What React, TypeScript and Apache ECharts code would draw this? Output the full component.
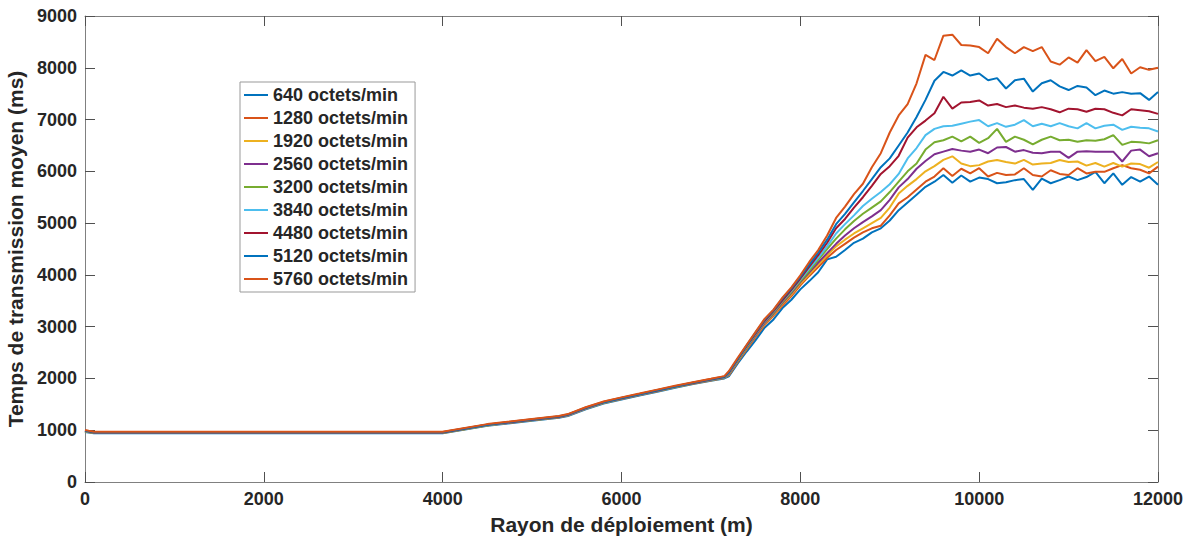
import React, { useEffect, useRef } from "react";
import * as echarts from "echarts";

const X = [0, 100, 4000, 4500, 5000, 5300, 5400, 5600, 5800, 6000, 6200, 6400, 6600, 6800, 7000, 7150,
  7200, 7300, 7400, 7500, 7600, 7700, 7800, 7900, 8000, 8100,
  8200, 8300, 8400, 8500, 8600, 8700, 8800, 8900, 9000, 9100,
  9200, 9300, 9400, 9500, 9600, 9700, 9800, 9900, 10000, 10100,
  10200, 10300, 10400, 10500, 10600, 10700, 10800, 10900, 11000, 11100,
  11200, 11300, 11400, 11500, 11600, 11700, 11800, 11900, 12000];

const NAMES = ["640 octets/min", "1280 octets/min", "1920 octets/min", "2560 octets/min", "3200 octets/min",
  "3840 octets/min", "4480 octets/min", "5120 octets/min", "5760 octets/min"];

const COLORS = ["#0072BD", "#D95319", "#EDB120", "#7E2F8E", "#77AC30", "#4DBEEE", "#A2142F", "#0072BD", "#D95319"];

const s640 = [965, 940, 940, 1085, 1185, 1240, 1275, 1405, 1515, 1595, 1670, 1745, 1820, 1890, 1955, 2000,
  2040, 2290, 2520, 2740, 2980, 3140, 3360, 3520, 3720, 3880,
  4050, 4300, 4350, 4480, 4620, 4700, 4820, 4900, 5050, 5250,
  5400, 5550, 5700, 5800, 5930, 5780, 5920, 5800, 5880, 5850,
  5770, 5790, 5830, 5850, 5640, 5860, 5770, 5830, 5900, 5830,
  5890, 5990, 5770, 5960, 5740, 5890, 5800, 5900, 5740];

const s1280 = [1000, 968, 966, 1112, 1212, 1270, 1305, 1438, 1548, 1628, 1702, 1778, 1852, 1922, 1988, 2040,
  2060, 2320, 2560, 2800, 3030, 3210, 3410, 3590, 3800, 3980,
  4150, 4330, 4480, 4600, 4720, 4820, 4900, 4950, 5150, 5380,
  5500, 5650, 5800, 5900, 6060, 5910, 6050, 5960, 6060, 5900,
  5970, 5930, 5940, 6060, 5930, 5900, 6020, 5950, 5930, 6060,
  5960, 5990, 5990, 6060, 6120, 6060, 6030, 5960, 6090];

const s1920 = [975, 948, 946, 1092, 1192, 1248, 1284, 1414, 1524, 1604, 1678, 1754, 1828, 1898, 1962, 2010,
  2070, 2330, 2580, 2820, 3050, 3230, 3440, 3620, 3830, 4010,
  4200, 4380, 4550, 4680, 4800, 4900, 5000, 5100, 5300, 5570,
  5720, 5850, 6000, 6100, 6220, 6290, 6150, 6100, 6120, 6190,
  6220, 6180, 6150, 6220, 6130, 6150, 6160, 6220, 6180, 6190,
  6110, 6160, 6090, 6160, 6090, 6150, 6140, 6070, 6180];

const s2560 = [978, 950, 949, 1095, 1195, 1252, 1288, 1418, 1528, 1608, 1682, 1758, 1832, 1902, 1966, 2015,
  2080, 2340, 2590, 2830, 3070, 3250, 3460, 3650, 3860, 4050,
  4240, 4420, 4600, 4760, 4900, 5020, 5130, 5250, 5450, 5690,
  5850, 6050, 6200, 6330, 6380, 6430, 6400, 6380, 6420, 6350,
  6460, 6470, 6380, 6410, 6360, 6350, 6380, 6380, 6260, 6380,
  6390, 6380, 6380, 6380, 6190, 6400, 6420, 6290, 6350];

const s3200 = [982, 953, 952, 1098, 1198, 1256, 1292, 1422, 1532, 1612, 1686, 1762, 1836, 1906, 1970, 2020,
  2090, 2350, 2600, 2850, 3090, 3270, 3480, 3670, 3880, 4080,
  4290, 4500, 4700, 4880, 5040, 5180, 5300, 5420, 5600, 5800,
  6000, 6150, 6420, 6560, 6600, 6670, 6580, 6670, 6550, 6640,
  6820, 6570, 6670, 6610, 6520, 6610, 6670, 6600, 6610, 6570,
  6600, 6590, 6620, 6700, 6510, 6570, 6560, 6540, 6600];

const s3840 = [985, 956, 955, 1101, 1201, 1259, 1295, 1425, 1535, 1615, 1690, 1765, 1840, 1910, 1975, 2025,
  2100, 2360, 2620, 2860, 3100, 3290, 3500, 3690, 3910, 4120,
  4330, 4550, 4800, 4980, 5150, 5330, 5470, 5600, 5750, 5950,
  6250, 6450, 6700, 6820, 6870, 6880, 6920, 6960, 6990, 6870,
  6930, 6860, 6900, 6990, 6870, 6920, 6870, 6930, 6870, 6830,
  6930, 6830, 6880, 6900, 6800, 6860, 6840, 6830, 6770];

const s4480 = [988, 958, 958, 1104, 1204, 1262, 1298, 1428, 1538, 1618, 1693, 1768, 1843, 1913, 1978, 2028,
  2110, 2370, 2630, 2870, 3110, 3300, 3510, 3710, 3930, 4160,
  4380, 4620, 4900, 5080, 5300, 5500, 5720, 5950, 6100, 6300,
  6650, 6850, 6980, 7120, 7440, 7210, 7330, 7340, 7370, 7270,
  7300, 7240, 7270, 7230, 7210, 7240, 7200, 7140, 7210, 7200,
  7150, 7210, 7200, 7130, 7080, 7200, 7180, 7160, 7110];

const s5120 = [992, 962, 961, 1107, 1207, 1265, 1301, 1432, 1542, 1622, 1696, 1772, 1846, 1916, 1982, 2033,
  2120, 2380, 2640, 2890, 3130, 3320, 3540, 3740, 3960, 4200,
  4430, 4680, 4980, 5180, 5400, 5620, 5850, 6080, 6250, 6500,
  6750, 7050, 7380, 7750, 7920, 7850, 7950, 7850, 7890, 7760,
  7800, 7600, 7760, 7790, 7540, 7700, 7760, 7640, 7570, 7650,
  7620, 7470, 7560, 7500, 7530, 7500, 7510, 7380, 7530];

const s5760 = [1002, 972, 970, 1118, 1218, 1276, 1312, 1444, 1554, 1634, 1708, 1784, 1858, 1928, 1994, 2045,
  2140, 2400, 2650, 2900, 3150, 3330, 3560, 3760, 3990, 4250,
  4480, 4760, 5100, 5320, 5560, 5760, 6080, 6350, 6750, 7080,
  7300, 7700, 8250, 8150, 8620, 8640, 8440, 8430, 8400, 8280,
  8560, 8400, 8280, 8400, 8320, 8400, 8120, 8060, 8200, 8100,
  8340, 8130, 8210, 7990, 8170, 7890, 8010, 7960, 8000];

const SERIES = [s640, s1280, s1920, s2560, s3200, s3840, s4480, s5120, s5760];

const X_TICKS = { min: 0, max: 12000, interval: 2000 };
const Y_TICKS = { min: 0, max: 9000, interval: 1000 };

const TEXT = "#262626";
const AXIS = "#808080";
const FONT = "'Liberation Sans', Arial, sans-serif";

function buildOption() {
  const axisLine = { show: true, onZero: false, lineStyle: { color: AXIS, width: 1 } };
  const axisTick = { show: true, inside: true, length: 10, lineStyle: { color: "#505050", width: 1 } };
  const plain = (v: number) => String(v);
  return {
    animation: false,
    textStyle: { fontFamily: FONT },
    grid: { left: 85, right: 35, top: 16, bottom: 60, containLabel: false, outerBoundsMode: "none" },
    legend: {
      orient: "vertical",
      left: 240,
      top: 82,
      data: NAMES,
      icon: "rect",
      itemWidth: 24,
      itemHeight: 2,
      itemGap: 5,
      padding: [4, 7, 4, 4],
      borderColor: "#999999",
      borderWidth: 1,
      backgroundColor: "#ffffff",
      textStyle: { fontSize: 18, fontWeight: "bold", color: TEXT, fontFamily: FONT, lineHeight: 18 },
    },
    xAxis: [
      {
        type: "value", ...X_TICKS, position: "bottom",
        axisLine, axisTick,
        axisLabel: { color: TEXT, fontWeight: "bold", fontSize: 18, margin: 8, fontFamily: FONT, formatter: plain },
        splitLine: { show: false },
        name: "Rayon de déploiement (m)", nameLocation: "middle", nameGap: 32,
        nameTextStyle: { fontSize: 21, fontWeight: "bold", color: TEXT, fontFamily: FONT },
      },
      {
        type: "value", ...X_TICKS, position: "top",
        axisLine, axisTick, axisLabel: { show: false }, splitLine: { show: false },
      },
    ],
    yAxis: [
      {
        type: "value", ...Y_TICKS, position: "left",
        axisLine, axisTick,
        axisLabel: { color: TEXT, fontWeight: "bold", fontSize: 18, margin: 8, fontFamily: FONT, formatter: plain },
        splitLine: { show: false },
        name: "Temps de transmission moyen (ms)", nameLocation: "middle", nameGap: 52,
        nameTextStyle: { fontSize: 21, fontWeight: "bold", color: TEXT, fontFamily: FONT },
      },
      {
        type: "value", ...Y_TICKS, position: "right",
        axisLine, axisTick, axisLabel: { show: false }, splitLine: { show: false },
      },
    ],
    series: SERIES.map((vals, i) => ({
      name: NAMES[i],
      type: "line",
      xAxisIndex: 0,
      yAxisIndex: 0,
      symbol: "none",
      showSymbol: false,
      color: COLORS[i],
      itemStyle: { color: COLORS[i] },
      lineStyle: { width: 2, color: COLORS[i] },
      emphasis: { disabled: true },
      data: X.map((x, k) => [x, vals[k]]),
    })),
  };
}

export default function App() {
  const ref = useRef<HTMLDivElement>(null);
  useEffect(() => {
    document.body.style.margin = "0";
    const chart = echarts.init(ref.current!, null, { renderer: "svg" });
    chart.setOption(buildOption() as any);
    return () => chart.dispose();
  }, []);
  return <div ref={ref} style={{ width: 1193, height: 542 }} />;
}
